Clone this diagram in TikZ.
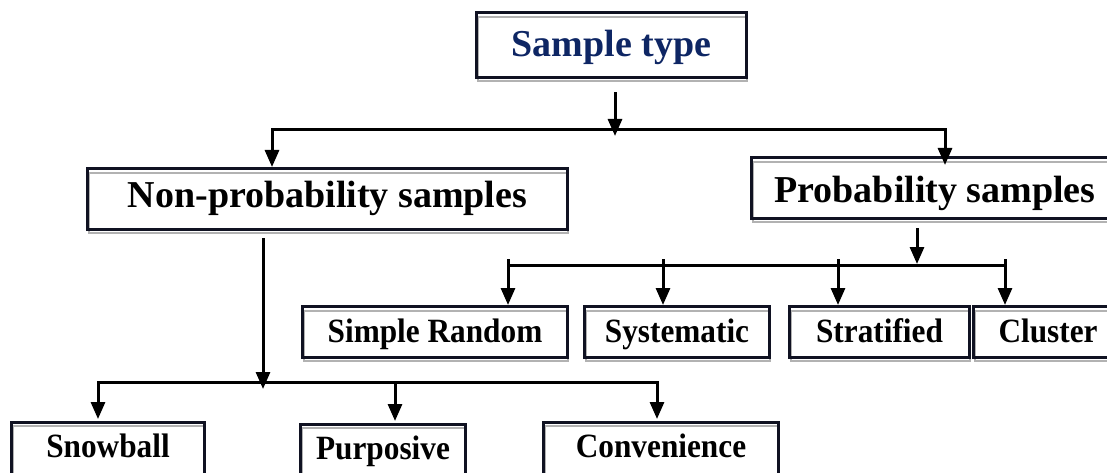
\documentclass[tikz,border=0pt]{standalone}
\usepackage{fontspec}
\setmainfont{Liberation Serif}
\newfontfamily\narrowserif[FakeStretch=0.92]{Liberation Serif}
\usetikzlibrary{arrows.meta,calc}
\definecolor{boxline}{RGB}{16,18,34}
\definecolor{shade}{RGB}{178,178,178}
\definecolor{titleblue}{RGB}{14,38,100}

\tikzset{
  framed/.style={fill=white, inner sep=0pt, align=center},
  toplevel/.style={framed, font=\fontsize{38}{42}\selectfont\bfseries, text=titleblue,
    text height=30pt, text depth=6pt},
  midlevel/.style={framed, font=\fontsize{38}{42}\selectfont\bfseries, text=black},
  leaflevel/.style={framed, font=\narrowserif\fontsize{34}{38}\selectfont\bfseries, text=black,
    text height=25pt, text depth=5pt},
  deeplevel/.style={fill=white, inner sep=0pt, align=center, anchor=north,
    font=\narrowserif\fontsize{34}{38}\selectfont\bfseries, text height=35pt, text depth=50pt},
  conn/.style={draw=black, line width=3pt, -{Triangle[length=17pt,width=14pt]}},
  bar/.style={draw=black, line width=3pt},
  shadeline/.style={draw=shade, line width=2pt},
  outline/.style={draw=boxline, line width=3pt},
}

\begin{document}
\begin{tikzpicture}[x=1pt,y=-1pt]
\useasboundingbox (0,0) rectangle (1107,473);
\clip (0,0) rectangle (1107,473);

% boxes
\node[toplevel, minimum width=269pt, minimum height=64pt] (st) at (611.5,45) {Sample type};
\node[midlevel, minimum width=479pt, minimum height=60pt, text height=28pt, text depth=12pt] (np) at (327.5,199) {Non-probability samples};
\node[midlevel, minimum width=366pt, minimum height=60pt, text height=30pt, text depth=2pt] (pr) at (935,188) {Probability samples};

\node[leaflevel, minimum width=264pt, minimum height=50pt] (sr) at (435,332) {Simple Random};
\node[leaflevel, minimum width=184pt, minimum height=50pt] (sy) at (677,332) {Systematic};
\node[leaflevel, minimum width=179pt, minimum height=50pt] (sf) at (879.5,332) {Stratified};
\node[leaflevel, minimum width=148pt, minimum height=50pt] (cl) at (1048,332) {Cluster};

\node[deeplevel, minimum width=192pt] (sb) at (108,422) {Snowball};
\node[deeplevel, minimum width=164pt] (pp) at (383,424) {Purposive};
\node[deeplevel, minimum width=234pt] (cv) at (661,422) {Convenience};

% frames: grey offset line under a dark outline
\foreach \n in {st,np,pr,sr,sy,sf,cl,sb,pp,cv}{
  \draw[shadeline] ([shift={(1pt,-4pt)}]\n.south west) rectangle ([shift={(1pt,-4pt)}]\n.north east);
  \draw[outline] (\n.south west) rectangle (\n.north east);
}

% first split
\coordinate (j0) at (615,130);
\coordinate (t1) at (272,167);
\coordinate (t2) at (945,165);
\draw[conn] ($(st.south -| j0)+(0,15)$) -- ($(j0)+(0,6)$);
\draw[conn] (j0) -| (t1);
\draw[conn] (j0) -| (t2);

% probability branch
\coordinate (j1) at (917,265);
\coordinate (p1) at (508,305);
\coordinate (p2) at (663,305);
\coordinate (p3) at (838,305);
\coordinate (p4) at (1005,305);
\draw[conn] ($(pr.south -| j1)+(0,10)$) -- ($(j1)+(0,-1)$);
\draw[bar] (p1 |- j1) -- (p4 |- j1);
\foreach \p in {p1,p2,p3,p4}{
  \draw[conn] ($(\p |- j1)+(0,-6)$) -- (\p);
}

% non-probability branch
\coordinate (j2) at (263,382);
\coordinate (q1) at (98,419);
\coordinate (q2) at (395,421);
\coordinate (q3) at (657,419);
\draw[conn] ($(np.south -| j2)+(0,9)$) -- ($(j2)+(0,7)$);
\draw[conn] (j2) -| (q1);
\draw[conn] (j2) -| (q3);
\draw[conn] (q2 |- j2) -- (q2);
\end{tikzpicture}
\end{document}
